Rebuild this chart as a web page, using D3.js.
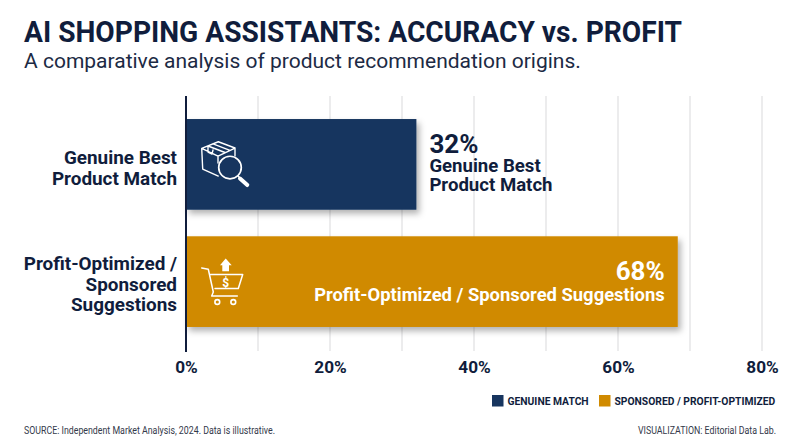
<!DOCTYPE html>
<html><head><meta charset="utf-8">
<script src="https://cdnjs.cloudflare.com/ajax/libs/d3/7.8.5/d3.min.js"></script>
<style>html,body{margin:0;padding:0;background:#fff}svg{display:block}text{font-family:Roboto,sans-serif}</style>
</head><body><svg id="c" width="800" height="447"></svg>
<script>
const categories=["Genuine Best Product Match","Profit-Optimized / Sponsored Suggestions"];
const categoryLines=[["Genuine Best","Product Match"],["Profit-Optimized /","Sponsored","Suggestions"]];
const values=[32,68.3];
const valueLabels=["32%","68%"];
const ticks=[0,10,20,30,40,50,60,70,80];
const tickLabels=[0,20,40,60,80];
const colors=["#17355f","#d08a00"];
const legendLabels=["GENUINE MATCH","SPONSORED / PROFIT-OPTIMIZED"];
const title="AI SHOPPING ASSISTANTS: ACCURACY vs. PROFIT";
const subtitle="A comparative analysis of product recommendation origins.";
const source="SOURCE: Independent Market Analysis, 2024. Data is illustrative.";
const credit="VISUALIZATION: Editorial Data Lab.";
const INK="#101d3c";

const svg=d3.select("#c");
const x=d3.scaleLinear().domain([0,80]).range([186,762]);
const y=d3.scaleBand().domain(categories).range([106,340]).paddingInner(26.5/117).paddingOuter(13/117);
const defs=svg.append("defs");
const f=defs.append("filter").attr("id","sh").attr("x","-5%").attr("y","-10%").attr("width","112%").attr("height","125%");
f.append("feDropShadow").attr("dx",3).attr("dy",4).attr("stdDeviation",3).attr("flood-color","#000").attr("flood-opacity",0.3);

svg.append("text").attr("x",24).attr("y",42).attr("font-size",29.5).attr("font-weight",700).attr("fill",INK)
  .attr("textLength",658).attr("lengthAdjust","spacingAndGlyphs").text(title);
svg.append("text").attr("x",24).attr("y",68).attr("font-size",21).attr("fill","#1c2a44").text(subtitle);

svg.append("g").selectAll("line").data(ticks.slice(1)).join("line")
  .attr("x1",d=>x(d)).attr("x2",d=>x(d)).attr("y1",96).attr("y2",351)
  .attr("stroke","#e2e2e4").attr("stroke-width",1.3);

svg.append("g").selectAll("rect").data(categories).join("rect")
  .attr("x",x(0)).attr("y",d=>y(d)).attr("height",y.bandwidth())
  .attr("width",(d,i)=>x(values[i])-x(0)).attr("fill",(d,i)=>colors[i])
  .attr("filter","url(#sh)");

const axis=d3.axisBottom(x).tickValues(tickLabels).tickSize(0).tickPadding(0).tickFormat(d=>d+"%");
const ag=svg.append("g").attr("transform","translate(0,373)").call(axis);
ag.select(".domain").remove();
ag.selectAll("text").attr("dy",0).attr("y",0).attr("font-size",17.2).attr("font-weight",700).attr("fill",INK).style("font-family","Roboto,sans-serif");

svg.append("line").attr("x1",x(0)).attr("x2",x(0)).attr("y1",96).attr("y2",352).attr("stroke",INK).attr("stroke-width",2);

// category labels
categoryLines.forEach((lines,i)=>{
  const cy=y(categories[i])+y.bandwidth()/2;
  const lh=i?20.5:21.5;
  lines.forEach((t,j)=>svg.append("text").attr("x",177).attr("y",cy+(j-(lines.length-1)/2)*lh+(i?9.3:10))
    .attr("text-anchor","end").attr("font-size",18.9).attr("font-weight",700).attr("fill",INK).text(t));
});

// value labels
const y0=y(categories[0]), y1=y(categories[1]);
svg.append("text").attr("x",x(values[0])+13).attr("y",y0+34).attr("font-size",26).attr("font-weight",700).attr("fill",INK).text(valueLabels[0]);
categoryLines[0].forEach((t,j)=>svg.append("text").attr("x",x(values[0])+13).attr("y",y0+53+j*19).attr("font-size",18.6).attr("font-weight",700).attr("fill",INK).text(t));
svg.append("text").attr("x",x(values[1])-13).attr("y",y1+44).attr("text-anchor","end").attr("font-size",26).attr("font-weight",700).attr("fill","#fff").text(valueLabels[1]);
svg.append("text").attr("x",x(values[1])-13).attr("y",y1+65).attr("text-anchor","end").attr("font-size",18.4).attr("font-weight",700).attr("fill","#fff").text(categories[1]);

// box + magnifier icon
const ic1=svg.append("g").attr("transform",`translate(${x(0)},${y0})`).attr("fill","none").attr("stroke","#fff").attr("stroke-width",1.4).attr("stroke-linejoin","round").attr("stroke-linecap","round");
ic1.append("path").attr("d","M15.7 29.3 L32.3 22.7 L49 29 L32 37 Z M15.7 29.3 L16.7 50 L32.3 57 M32 37 V44 M49 29 V37 M22 27 L39 33.5 M27 24.8 L44 31.3 M22 27 V33 L26 35 L27 31");
ic1.append("circle").attr("cx",44).attr("cy",48.5).attr("r",11.3).attr("fill","#17355f").attr("stroke-width",1.7);
ic1.append("path").attr("d","M52 57 L54 59").attr("stroke-width",1.6);
ic1.append("path").attr("d","M54 59.5 L61.3 66").attr("stroke-width",4);

// cart icon
const ic2=svg.append("g").attr("transform",`translate(${x(0)},${y1})`).attr("fill","none").attr("stroke","#fff").attr("stroke-width",1.5).attr("stroke-linejoin","round").attr("stroke-linecap","round");
ic2.append("path").attr("d","M15.7 31.7 L22.3 33 L27.3 55.7 L25.7 59.7 H51.3 M24 38.3 H56.7 L52.3 52.3 H29");
ic2.append("circle").attr("cx",31.3).attr("cy",65.7).attr("r",2.4).attr("stroke-width",1.6);
ic2.append("circle").attr("cx",47.3).attr("cy",65.7).attr("r",2.4).attr("stroke-width",1.6);
ic2.append("path").attr("d","M39.7 22.3 L45.7 29 H43 V35 H36.3 V29 H34 Z").attr("fill","#fff").attr("stroke","none");
ic2.append("text").attr("x",39.7).attr("y",50.5).attr("text-anchor","middle").attr("font-size",12).attr("font-weight",700).attr("fill","#fff").attr("stroke","none").text("$");

// legend
const lx=[492,599];
legendLabels.forEach((t,i)=>{
  svg.append("rect").attr("x",lx[i]).attr("y",395).attr("width",11.5).attr("height",11.5).attr("fill",colors[i]);
  svg.append("text").attr("x",lx[i]+15.5).attr("y",405.3).attr("font-size",10.3).attr("font-weight",700).attr("fill",INK).text(t);
});
svg.append("text").attr("x",24).attr("y",434).attr("font-size",10).attr("fill","#33394a")
  .attr("textLength",251).attr("lengthAdjust","spacingAndGlyphs").text(source);
svg.append("text").attr("x",638).attr("y",434).attr("font-size",10).attr("fill","#33394a")
  .attr("textLength",138).attr("lengthAdjust","spacingAndGlyphs").text(credit);
</script></body></html>
